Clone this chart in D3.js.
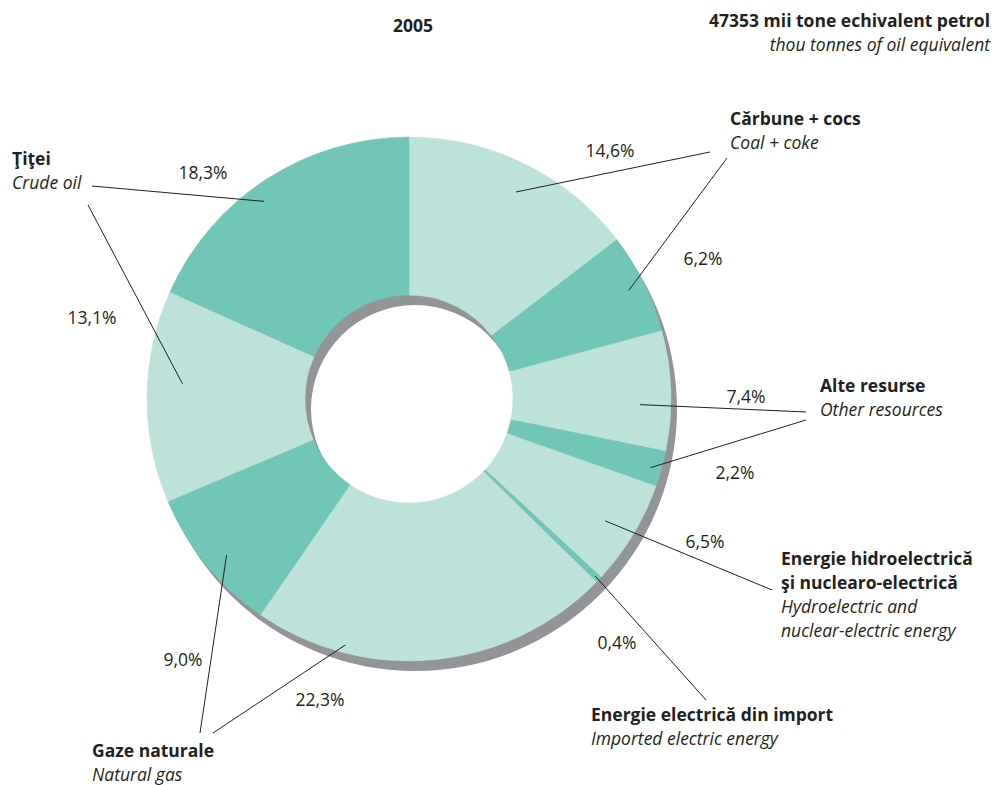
<!DOCTYPE html>
<html><head><meta charset="utf-8">
<script src="https://cdn.jsdelivr.net/npm/d3@7"></script>
<style>
body{margin:0;background:#fff;}
text{font-family:"Open Sans","Noto Sans",sans-serif;fill:#231f20;}
.b{font-weight:700;}
.i{font-style:italic;}
</style></head><body>
<svg id="c" width="997" height="785"></svg>
<script>
// ---- data ----
const categories = ["Cărbune","Cocs","Alte resurse","Alte resurse 2","Energie hidro/nucleară","Energie import","Gaze naturale 1","Gaze naturale 2","Ţiţei 1","Ţiţei 2"];
const values = [14.6, 6.2, 7.4, 2.2, 6.5, 0.4, 22.3, 9.0, 13.1, 18.3];
const valueLabels = ["14,6%","6,2%","7,4%","2,2%","6,5%","0,4%","22,3%","9,0%","13,1%","18,3%"];
const shades = ["light","dark","light","dark","light","dark","light","dark","light","dark"];
const title = "2005";
const totalLine1 = "47353 mii tone echivalent petrol";
const totalLine2 = "thou tonnes of oil equivalent";

// ---- layout ----
const W=997,H=785, cx=409, cy=399, R=262, r0=104;
const FS = 17.5, LH = 23.9;
const colors = {light:"#bce2da", dark:"#72c6b8", shadow:"#929497"};
// leader: fraction within slice, radius of start, end point, percent label position
const leaders = [
  {f:0.52, rad:233, end:[710,152], lab:[610,157]},
  {f:0.5,  rad:245, end:[727,158], lab:[703,265]},
  {f:0.62, rad:231, end:[806,412], lab:[746,403]},
  {f:0.55, rad:251, end:[806,420], lab:[735,479]},
  {f:0.53, rad:231, end:[772,590], lab:[705,548]},
  {f:0.5,  rad:257, end:[706,700], lab:[617,649]},
  {f:0.75, rad:254, end:[213,733], lab:[320,706]},
  {f:0.46, rad:240, end:[200,733], lab:[183,666]},
  {f:0.57, rad:227, end:[88,205],  lab:[92,324]},
  {f:0.45, rad:245, end:[92,186],  lab:[203,179]}
];
const groupLabels = [
  {x:730,y:125, lines:[["b","Cărbune + cocs"],["i","Coal + coke"]]},
  {x:820,y:392, lines:[["b","Alte resurse"],["i","Other resources"]]},
  {x:781,y:565, lines:[["b","Energie hidroelectrică"],["b","şi nuclearo-electrică"],["i","Hydroelectric and"],["i","nuclear-electric energy"]]},
  {x:591,y:721, lines:[["b","Energie electrică din import"],["i","Imported electric energy"]]},
  {x:92,y:757, lines:[["b","Gaze naturale"],["i","Natural gas"]]},
  {x:12,y:165, lines:[["b","Ţiţei"],["i","Crude oil"]]}
];

const svg = d3.select("#c");
const pie = d3.pie().sort(null).value(d=>d)(values);
const arc = d3.arc().innerRadius(r0).outerRadius(R);

// shadow
const sh = svg.append("g").attr("transform",`translate(${cx+6},${cy+10})`);
sh.append("path").attr("d", d3.arc().innerRadius(r0).outerRadius(R).startAngle(0).endAngle(2*Math.PI)()).attr("fill",colors.shadow);

const g = svg.append("g").attr("transform",`translate(${cx},${cy})`);
g.selectAll("path.s").data(pie).join("path").attr("class","s")
  .attr("d",arc).attr("fill",(d,i)=>colors[shades[i]])
  .attr("stroke",(d,i)=>colors[shades[i]]).attr("stroke-width",0.5);

// leaders
pie.forEach((d,i)=>{
  const L = leaders[i];
  const a = d.startAngle + (d.endAngle-d.startAngle)*L.f;
  const x0 = cx + L.rad*Math.sin(a), y0 = cy - L.rad*Math.cos(a);
  svg.append("line").attr("x1",x0).attr("y1",y0).attr("x2",L.end[0]).attr("y2",L.end[1])
    .attr("stroke","#231f20").attr("stroke-width",1);
  svg.append("text").attr("x",L.lab[0]).attr("y",L.lab[1]).attr("text-anchor","middle")
    .attr("font-size",FS).text(valueLabels[i]);
});

// group labels
groupLabels.forEach(gl=>{
  gl.lines.forEach((ln,j)=>{
    svg.append("text").attr("x",gl.x).attr("y",gl.y + j*LH).attr("class",ln[0])
      .attr("font-size",FS).text(ln[1]);
  });
});

svg.append("text").attr("x",413).attr("y",32).attr("text-anchor","middle").attr("class","b").attr("font-size",FS).text(title);
svg.append("text").attr("x",990).attr("y",27).attr("text-anchor","end").attr("class","b").attr("font-size",FS).text(totalLine1);
svg.append("text").attr("x",990).attr("y",27+LH).attr("text-anchor","end").attr("class","i").attr("font-size",FS).text(totalLine2);
</script></body></html>
